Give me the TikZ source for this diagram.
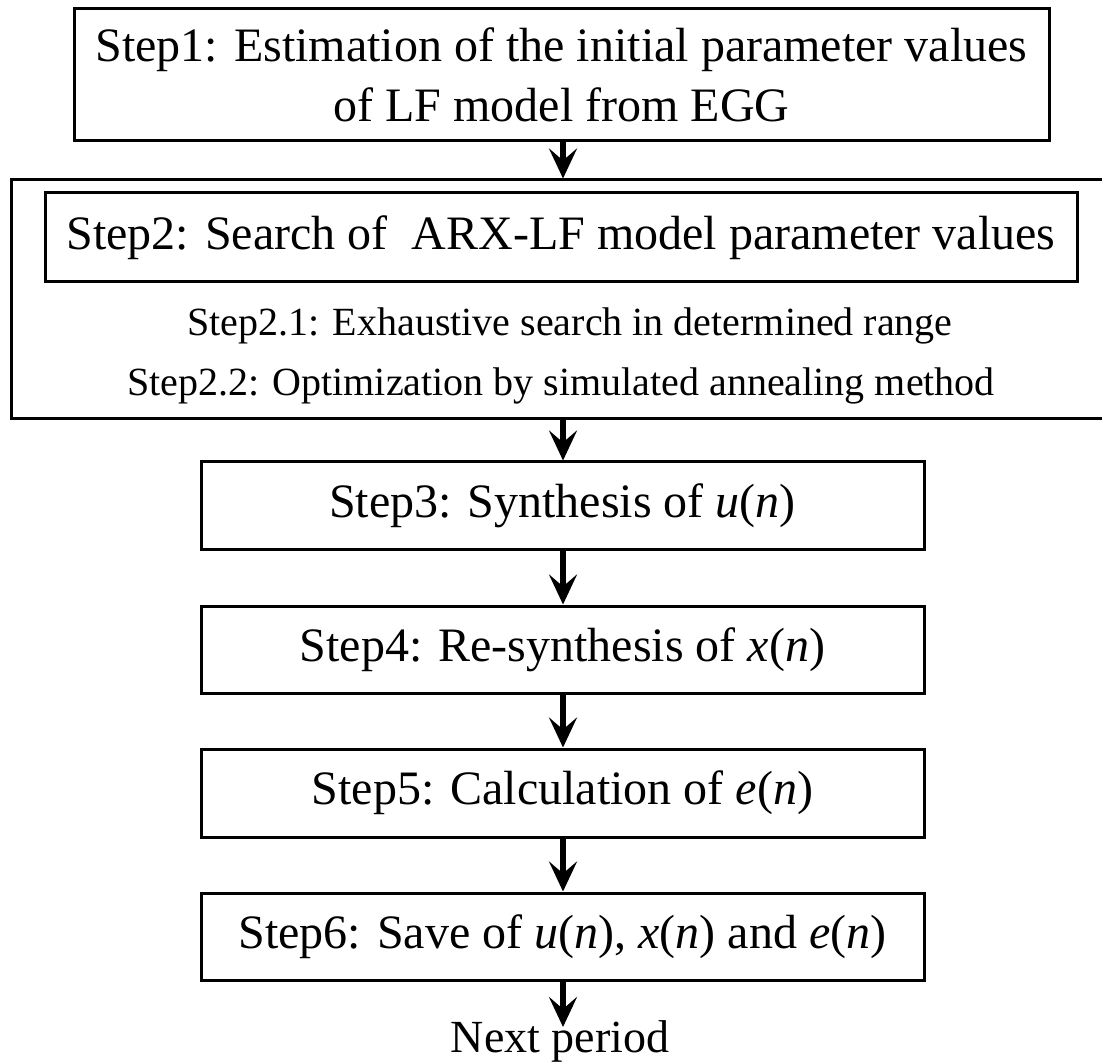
\documentclass[tikz,border=0pt]{standalone}
\usepackage{fontspec}
\setmainfont{Liberation Serif}
\usetikzlibrary{arrows.meta}
\begin{document}
\begin{tikzpicture}[x=0.5pt,y=-0.5pt,
  stepbox/.style={draw, line width=1.5pt, inner sep=0pt, align=center,
    font=\fontsize{24}{30}\selectfont},
  subtext/.style={inner sep=0pt, font=\fontsize{20}{24}\selectfont},
  flow/.style={line width=2.6pt, -{Stealth[length=15pt,width=14pt,inset=6pt]}}]
\useasboundingbox (0,0) rectangle (1102,1063);
\node[stepbox, minimum width=487.5pt, minimum height=66pt] (s1) at (561.5,75)
  {Step1: Estimation of the initial parameter values\\of LF model from EGG};
\node[draw, line width=1.5pt, minimum width=549pt, minimum height=119.5pt, inner sep=0pt] (outer) at (560,299.5) {};
\node[stepbox, minimum width=516pt, minimum height=44.5pt] (s2) at (561,237.5)
  {Step2: Search of\ \ ARX-LF model parameter values};
\node[subtext] (s21) at (570,326) {Step2.1: Exhaustive search in determined range};
\node[subtext] (s22) at (561,386) {Step2.2: Optimization by simulated annealing method};
\node[stepbox, minimum width=361.5pt, minimum height=43.5pt] (s3) at (562.5,505.5)
  {Step3: Synthesis of \textit{u}(\textit{n})};
\node[stepbox, minimum width=361.5pt, minimum height=43.5pt] (s4) at (562.5,649.5)
  {Step4: Re-synthesis of \textit{x}(\textit{n})};
\node[stepbox, minimum width=361.5pt, minimum height=44pt] (s5) at (562.5,793)
  {Step5: Calculation of \textit{e}(\textit{n})};
\node[stepbox, minimum width=361.5pt, minimum height=43.5pt] (s6) at (562.5,936.5)
  {Step6: Save of \textit{u}(\textit{n}), \textit{x}(\textit{n}) and \textit{e}(\textit{n})};
\node[inner sep=0pt, anchor=base, font=\fontsize{23}{30}\selectfont] (next) at (560,1052) {Next period};
\coordinate (tip) at (563,1027);
\draw[flow] (s1.south -| 563,0) -- (outer.north -| 563,0);
\draw[flow] (outer.south -| 563,0) -- (s3.north -| 563,0);
\draw[flow] (s3.south -| 563,0) -- (s4.north -| 563,0);
\draw[flow] (s4.south -| 563,0) -- (s5.north -| 563,0);
\draw[flow] (s5.south -| 563,0) -- (s6.north -| 563,0);
\draw[flow] (s6.south -| 563,0) -- (tip);
\end{tikzpicture}
\end{document}
